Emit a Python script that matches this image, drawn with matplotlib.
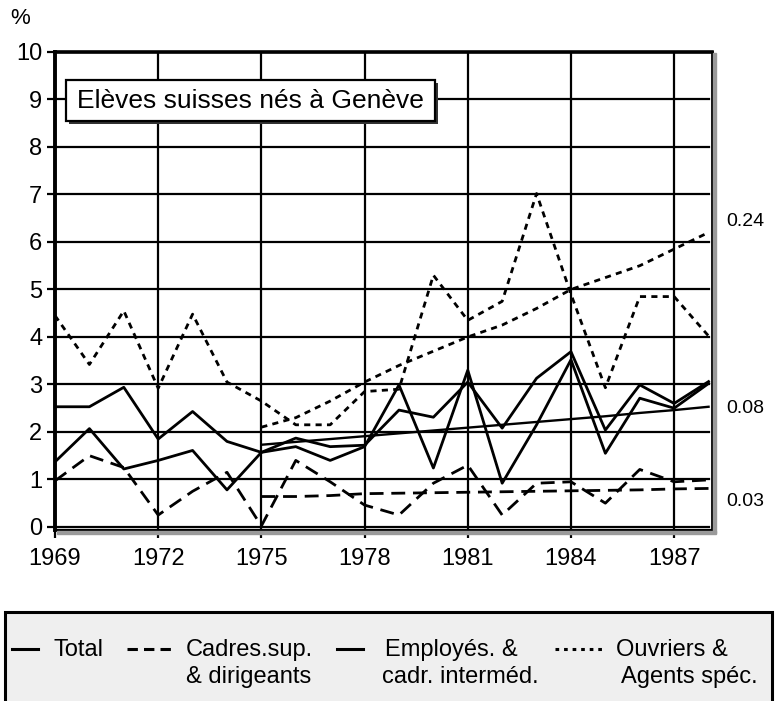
import numpy as np
import matplotlib
matplotlib.use("Agg")
import matplotlib.pyplot as plt
from matplotlib.patches import Rectangle
from matplotlib.lines import Line2D

plt.rcParams['font.family'] = ['Liberation Sans', 'DejaVu Sans']

# Data
years = list(range(1969, 1989))
total = [2.53, 2.53, 2.94, 1.85, 2.43, 1.80, 1.57, 1.87, 1.69, 1.72,
         2.46, 2.31, 3.05, 2.08, 3.13, 3.69, 2.04, 2.99, 2.60, 3.06]
cadres = [0.97, 1.50, 1.25, 0.25, 0.75, 1.15, 0.02, 1.40, 0.95, 0.46,
          0.25, 0.92, 1.30, 0.25, 0.92, 0.95, 0.50, 1.21, 0.95, 0.99]
employes = [1.37, 2.07, 1.22, 1.40, 1.61, 0.78, 1.57, 1.69, 1.40, 1.69,
            2.99, 1.24, 3.30, 0.92, 2.15, 3.52, 1.55, 2.71, 2.50, 3.02]
ouvriers = [4.45, 3.42, 4.55, 2.92, 4.48, 3.05, 2.65, 2.15, 2.15, 2.85,
            2.90, 5.30, 4.35, 4.75, 7.02, 4.90, 2.93, 4.85, 4.85, 4.02]

trend_years = list(range(1975, 1989))
ouvriers_trend = [2.10, 2.30, 2.65, 3.05, 3.40, 3.70, 4.00, 4.25, 4.60, 5.00, 5.25, 5.50, 5.85, 6.20]
total_trend = [1.73, 1.79, 1.85, 1.91, 1.97, 2.03, 2.09, 2.15, 2.21, 2.27, 2.33, 2.40, 2.46, 2.53]
cadres_trend = [0.64, 0.64, 0.66, 0.70, 0.71, 0.72, 0.73, 0.74, 0.75, 0.76, 0.77, 0.78, 0.80, 0.81]

slope_labels = ["0.24", "0.08", "0.03"]
xticks = [1969, 1972, 1975, 1978, 1981, 1984, 1987]

W, H = 775, 701
fig = plt.figure(figsize=(W / 100, H / 100), dpi=100)
ax = fig.add_axes([55 / W, 1 - 530 / H, 657 / W, 478 / H])

LONG = (0, (5.0, 2.8))
SHORT = (0, (2.2, 1.9))
lw = 2.0

# grid
for v in range(0, 11):
  ax.axhline(v, color='black', lw=1.6, zorder=1, xmax=0.995)
for x in xticks[1:]:
  ax.axvline(x, color='black', lw=1.6, zorder=1)

ax.plot(years, total, color='black', lw=lw, zorder=3)
ax.plot(years, employes, color='black', lw=lw, zorder=3)
ax.plot(years, cadres, color='black', lw=lw, ls=LONG, zorder=3)
ax.plot(years, ouvriers, color='black', lw=lw, ls=SHORT, zorder=3)

ax.plot(trend_years, ouvriers_trend, color='black', lw=lw, ls=SHORT, zorder=3)
ax.plot(trend_years, total_trend, color='black', lw=1.7, zorder=3)
ax.plot(trend_years, cadres_trend, color='black', lw=lw, ls=LONG, zorder=3)

ax.set_xlim(1969, 1988.1)
ax.set_ylim(-0.065, 10)
ax.set_xticks(xticks)
ax.set_yticks(range(0, 11))
ax.tick_params(axis='both', direction='out', length=6, width=1.6, labelsize=17, color='black')
ax.tick_params(axis='x', pad=7)
ax.tick_params(axis='y', pad=3)

ax.spines['left'].set_linewidth(2.8)
ax.spines['top'].set_linewidth(2.6)
ax.spines['right'].set_linewidth(2.0)
ax.spines['bottom'].set_linewidth(1.6)
for s in ax.spines.values():
  s.set_zorder(4)

# frame shadow on right and bottom
fig.patches.append(Rectangle((713 / W, 1 - 533 / H), 3 / W, 480 / H, transform=fig.transFigure,
                             color='#9a9a9a', zorder=0))
fig.patches.append(Rectangle((57 / W, 1 - 534 / H), 659 / W, 3 / H, transform=fig.transFigure,
                             color='#9a9a9a', zorder=0))

fig.text(10 / W, 1 - 18 / H, "%", fontsize=16, ha='left', va='center')

# title box with shadow
fig.patches.append(Rectangle((69 / W, 1 - 124 / H), 369 / W, 41 / H, transform=fig.transFigure,
                             facecolor='#333333', edgecolor='none', zorder=5))
fig.patches.append(Rectangle((66 / W, 1 - 121 / H), 369 / W, 41 / H, transform=fig.transFigure,
                             facecolor='white', edgecolor='black', lw=1.6, zorder=6))
fig.text(77 / W, 1 - 101 / H, "Elèves suisses nés à Genève", fontsize=19,
         ha='left', va='center', zorder=7)

# slope labels
for lab, y in zip(slope_labels, [222, 409, 501]):
  fig.text(745 / W, 1 - y / H, lab, fontsize=14, ha='center', va='center')

# legend panel
fig.patches.append(Rectangle((5 / W, -0.02), 767 / W, (1 - 612 / H) + 0.02, transform=fig.transFigure,
                             facecolor='#efefef', edgecolor='black', lw=2.2, zorder=0))

def handle(x0, x1, y, ls):
  fig.add_artist(Line2D([x0 / W, x1 / W], [1 - y / H, 1 - y / H], transform=fig.transFigure,
                        color='black', lw=2.2, ls=ls))

handle(12, 38, 649, '-')
handle(127, 172, 649, (0, (3.4, 2.0)))
handle(337, 363, 649, '-')
handle(555, 602, 649, (0, (1.2, 1.6)))

fs = 17
fig.text(53 / W, 1 - 650 / H, "Total", fontsize=fs, va='center')
fig.text(186 / W, 1 - 650 / H, "Cadres.sup.", fontsize=fs, va='center')
fig.text(186 / W, 1 - 677 / H, "& dirigeants", fontsize=fs, va='center')
fig.text(385 / W, 1 - 650 / H, "Employés. &", fontsize=fs, va='center')
fig.text(382 / W, 1 - 677 / H, "cadr. interméd.", fontsize=fs, va='center')
fig.text(616 / W, 1 - 650 / H, "Ouvriers &", fontsize=fs, va='center')
fig.text(621 / W, 1 - 677 / H, "Agents spéc.", fontsize=fs, va='center')

fig.savefig("out.png", dpi=100)
